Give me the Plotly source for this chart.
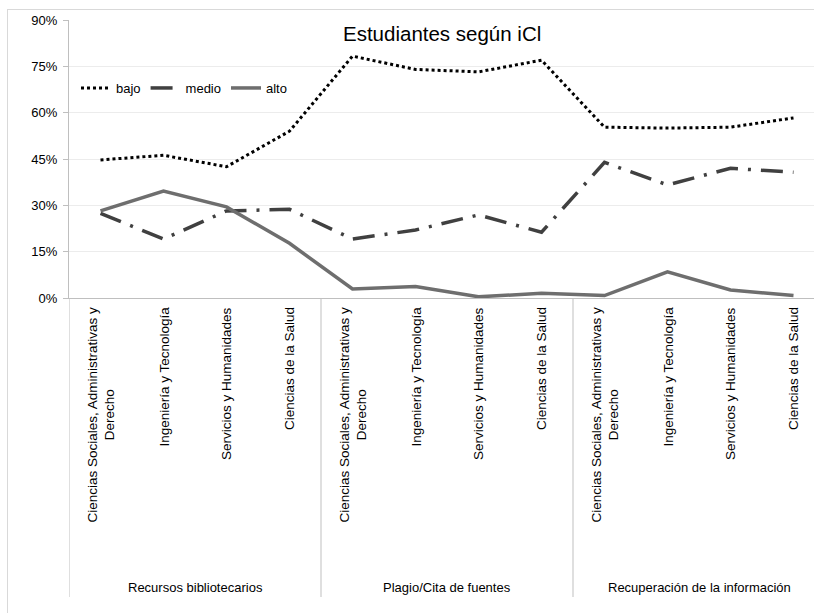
import plotly.graph_objects as go

groups = ["Recursos bibliotecarios", "Plagio/Cita de fuentes", "Recuperación de la información"]
areas = ["Ciencias Sociales, Administrativas y<br>Derecho", "Ingeniería y Tecnología",
         "Servicios y Humanidades", "Ciencias de la Salud"]
categories = [a for g in groups for a in areas]

bajo = [44.7, 46.2, 42.5, 54.0, 78.3, 74.0, 73.2, 77.0, 55.3, 55.0, 55.3, 58.3]
medio = [27.4, 19.1, 28.2, 28.7, 19.1, 22.0, 26.9, 21.3, 43.9, 36.6, 42.0, 40.7]
alto = [28.2, 34.6, 29.5, 17.7, 2.9, 3.7, 0.4, 1.5, 0.8, 8.5, 2.6, 0.8]

y_ticks = [0, 15, 30, 45, 60, 75, 90]

W, H = 814, 613
L, R, T, B = 69, 0, 20, 298  # plot area pixel edges (top y=20, bottom y=298)
ph = B - T
pw = W - L - R

def py(y):  # pixel y -> paper y
    return (B - y) / ph

def px(x):  # pixel x -> paper x
    return (x - L) / pw

xs = list(range(len(categories)))
FONT = "Liberation Sans, Arial, sans-serif"

fig = go.Figure()
fig.add_trace(go.Scatter(x=xs, y=bajo, name="bajo", mode="lines",
                         line=dict(color="#000000", width=3, dash="dot")))
fig.add_trace(go.Scatter(x=xs, y=medio, name="medio", mode="lines",
                         line=dict(color="#404040", width=3.5, dash="22px,10px,3px,10px")))
fig.add_trace(go.Scatter(x=xs, y=alto, name="alto", mode="lines",
                         line=dict(color="#6e6e6e", width=3.5)))

shapes = []
n_per = len(areas)
for k in range(len(groups)):
    xd = k * n_per - 0.5
    shapes.append(dict(type="line", xref="x", yref="paper", x0=xd, x1=xd,
                       y0=0, y1=py(597), line=dict(color="#bfbfbf", width=1)))
# chart frame lines (top and left)
shapes.append(dict(type="line", xref="paper", yref="paper", x0=px(7), x1=px(W + 5),
                   y0=py(9.5), y1=py(9.5), line=dict(color="#d9d9d9", width=1)))
shapes.append(dict(type="line", xref="paper", yref="paper", x0=px(7.5), x1=px(7.5),
                   y0=py(9.5), y1=py(H + 5), line=dict(color="#d9d9d9", width=1)))

annotations = []
for i, c in enumerate(categories):
    annotations.append(dict(x=i, xref="x", y=py(305), yref="paper", text=c,
                            textangle=-90, showarrow=False, xanchor="center",
                            yanchor="top", align="center",
                            font=dict(family=FONT, size=13.5, color="#000000")))
for k, g in enumerate(groups):
    annotations.append(dict(x=k * n_per + (n_per - 1) / 2, xref="x", y=py(587), yref="paper",
                            text=g, showarrow=False, xanchor="center", yanchor="middle",
                            font=dict(family=FONT, size=13, color="#000000")))
annotations.append(dict(x=px(442), xref="paper", y=py(33), yref="paper",
                        text="Estudiantes según iCl", showarrow=False,
                        xanchor="center", yanchor="middle",
                        font=dict(family=FONT, size=20.5, color="#000000")))

fig.update_layout(
    width=W, height=H,
    margin=dict(l=L, r=R, t=T, b=H - B, pad=0, autoexpand=False),
    paper_bgcolor="white", plot_bgcolor="white",
    showlegend=True,
    legend=dict(orientation="h", x=px(76), xanchor="left", y=py(88), yanchor="middle",
                font=dict(family=FONT, size=13, color="#000000"),
                bgcolor="rgba(0,0,0,0)", itemwidth=30, tracegroupgap=0),
    shapes=shapes, annotations=annotations,
    xaxis=dict(range=[-0.5, (W - L - R) / 63 - 0.5], showticklabels=False, showgrid=False,
               zeroline=False, showline=True, linecolor="#bfbfbf", linewidth=1, ticks=""),
    yaxis=dict(range=[0, 90], tickvals=y_ticks, ticktext=[f"{v}%" for v in y_ticks],
               showgrid=True, gridcolor="#ececec", gridwidth=1, zeroline=False,
               showline=True, linecolor="#bfbfbf", linewidth=1,
               ticks="outside", ticklen=5, tickcolor="#bfbfbf", ticklabelstandoff=3,
               tickfont=dict(family=FONT, size=13, color="#000000")),
)

fig.write_html("out.html", config={"displayModeBar": False},
               post_script="document.body.style.margin='0px';document.body.style.overflow='hidden';")
